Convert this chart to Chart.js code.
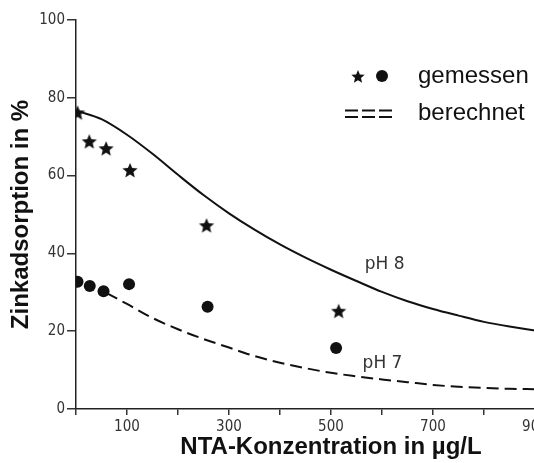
<!DOCTYPE html>
<html>
<head>
<meta charset="utf-8">
<script src="https://cdn.jsdelivr.net/npm/chart.js@4/dist/chart.umd.min.js"></script>
<style>
  html, body { margin: 0; padding: 0; background: #fff; overflow: hidden; }
  #wrap { width: 595px; height: 463px; }
</style>
</head>
<body>
<div id="wrap"><canvas id="zinc-chart" width="595" height="463"></canvas></div>
<script>
// measured points (stars = pH 8, dots = pH 7)
const concPh8Measured = [3, 26, 59, 106, 256, 515];
const zincPh8Measured = [76, 68.6, 66.8, 61.2, 47, 25];
const concPh7Measured = [3, 27, 54, 104, 258, 510];
const zincPh7Measured = [32.7, 31.6, 30.3, 32.1, 26.3, 15.7];

// calculated curves
const concPh8Calc = [5, 50, 100, 150, 200, 250, 300, 350, 400, 450, 500, 550, 600, 650, 700, 750, 800, 850, 900, 950, 1000];
const zincPh8Calc = [76.5, 74.5, 70.5, 65.6, 60.2, 55, 50.3, 46.1, 42.3, 38.9, 35.8, 32.9, 30.1, 27.7, 25.7, 24, 22.4, 21.2, 20.2, 19.4, 18.7];
const concPh7Calc = [60, 100, 150, 200, 250, 300, 350, 400, 450, 500, 550, 600, 650, 700, 750, 800, 850, 900, 950, 1000];
const zincPh7Calc = [29.8, 27, 23.4, 20.5, 18, 15.8, 13.6, 11.9, 10.5, 9.3, 8.4, 7.6, 6.9, 6.2, 5.7, 5.4, 5.2, 5.1, 5, 4.9];

const yTicks = [0, 20, 40, 60, 80, 100];
const xTickLabels = [100, 300, 500, 700, 900];

const ink = '#111';
const tickFont = { family: "'DejaVu Sans Condensed', 'DejaVu Sans', sans-serif", size: 15 };
const titleFont = { family: "'Liberation Sans', Arial, sans-serif", size: 24, weight: 'bold' };

const toPoints = (xs, ys) => xs.map((x, i) => ({ x: x, y: ys[i] }));

const starPath = (ctx, cx, cy, r) => {
    ctx.beginPath();
    for (let i = 0; i < 10; i++) {
        const a = -Math.PI / 2 + i * Math.PI / 5;
        const rad = i % 2 ? r * 0.45 : r;
        const px = cx + rad * Math.cos(a);
        const py = cy + rad * Math.sin(a);
        if (i === 0) ctx.moveTo(px, py); else ctx.lineTo(px, py);
    }
    ctx.closePath();
};

// filled five pointed star as a point style
const makeStar = (r) => {
    const c = document.createElement('canvas');
    c.width = c.height = 2 * r + 2;
    const ctx = c.getContext('2d');
    ctx.fillStyle = ink;
    starPath(ctx, r + 1, r + 1, r);
    ctx.fill();
    return c;
};
const starImg = makeStar(8);

// legend in the top right and the pH labels next to the curves
const annotations = {
    id: 'annotations',
    afterDraw(chart) {
        const ctx = chart.ctx;
        const xs = chart.scales.x;
        const ys = chart.scales.y;
        ctx.save();
        ctx.fillStyle = ink;
        ctx.strokeStyle = ink;
        starPath(ctx, 358, 77, 7);
        ctx.fill();
        ctx.beginPath();
        ctx.arc(382, 76, 6, 0, Math.PI * 2);
        ctx.fill();
        ctx.lineWidth = 2;
        ctx.setLineDash([13, 4]);
        [110.5, 117].forEach((ly) => {
            ctx.beginPath();
            ctx.moveTo(345, ly);
            ctx.lineTo(393, ly);
            ctx.stroke();
        });
        ctx.setLineDash([]);
        ctx.font = "24px 'Liberation Sans', Arial, sans-serif";
        ctx.textAlign = 'left';
        ctx.textBaseline = 'middle';
        ctx.fillText('gemessen', 418, 76);
        ctx.fillText('berechnet', 418, 113);

        ctx.fillStyle = '#333';
        ctx.font = "17px 'DejaVu Sans', sans-serif";
        ctx.textAlign = 'center';
        ctx.fillText('pH 8', xs.getPixelForValue(605), ys.getPixelForValue(37));
        ctx.fillText('pH 7', xs.getPixelForValue(601), ys.getPixelForValue(11.8));
        ctx.restore();
    }
};

const chartConfig = {
    type: 'scatter',
    data: {
        datasets: [
            {
                label: 'pH 8 berechnet',
                data: toPoints(concPh8Calc, zincPh8Calc),
                showLine: true,
                borderColor: ink,
                borderWidth: 2,
                cubicInterpolationMode: 'monotone',
                pointRadius: 0
            },
            {
                label: 'pH 7 berechnet',
                data: toPoints(concPh7Calc, zincPh7Calc),
                showLine: true,
                borderColor: ink,
                borderWidth: 2,
                borderDash: [12, 6],
                cubicInterpolationMode: 'monotone',
                pointRadius: 0
            },
            {
                label: 'pH 8 gemessen',
                data: toPoints(concPh8Measured, zincPh8Measured),
                pointStyle: starImg,
                pointRadius: 8
            },
            {
                label: 'pH 7 gemessen',
                data: toPoints(concPh7Measured, zincPh7Measured),
                pointStyle: 'circle',
                pointRadius: 6,
                backgroundColor: ink,
                borderColor: ink,
                borderWidth: 0
            }
        ]
    },
    options: {
        responsive: false,
        animation: false,
        layout: { padding: { top: 20, right: 7, left: 0, bottom: 0 } },
        plugins: {
            legend: { display: false },
            tooltip: { enabled: false }
        },
        scales: {
            x: {
                type: 'linear',
                min: 0,
                max: 1000,
                afterFit: (scale) => { scale.height = 54; },
                ticks: {
                    stepSize: 100,
                    autoSkip: false,
                    maxRotation: 0,
                    color: '#333',
                    font: tickFont,
                    padding: 3,
                    callback: (v) => xTickLabels.includes(v) ? String(v) : ''
                },
                grid: { drawOnChartArea: false, tickLength: 6, tickColor: '#333', lineWidth: 1.5 },
                border: { display: true, color: '#222', width: 1.5 },
                title: {
                    display: true,
                    text: 'NTA-Konzentration in µg/L',
                    color: ink,
                    font: titleFont,
                    padding: { top: 0, bottom: 1 }
                }
            },
            y: {
                min: 0,
                max: 100,
                afterFit: (scale) => { scale.width = 76; },
                afterBuildTicks: (scale) => { scale.ticks = yTicks.map((v) => ({ value: v })); },
                ticks: { color: '#333', font: tickFont, padding: 2 },
                grid: { drawOnChartArea: false, tickLength: 9, tickColor: '#333', lineWidth: 1.5 },
                border: { display: true, color: '#222', width: 1.5 },
                title: {
                    display: true,
                    text: 'Zinkadsorption in %',
                    color: ink,
                    font: titleFont,
                    padding: { top: 7, bottom: 0 }
                }
            }
        }
    },
    plugins: [annotations]
};

new Chart(document.querySelector('#zinc-chart').getContext('2d'), chartConfig);
</script>
</body>
</html>
